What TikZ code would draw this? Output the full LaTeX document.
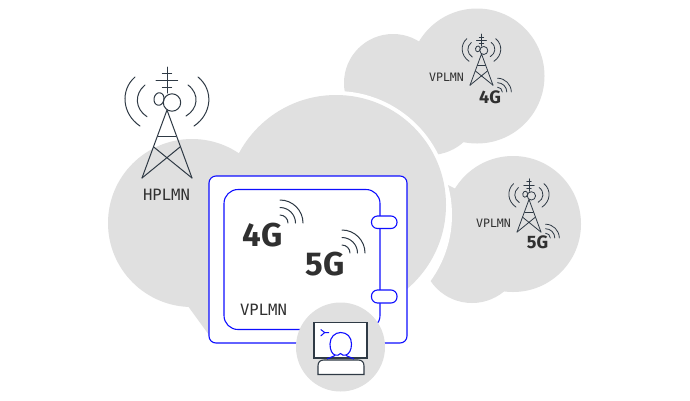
\documentclass[tikz,border=0pt]{standalone}
\usepackage{fontspec}
\setmainfont{Liberation Sans}
\newfontfamily\lblfont{DejaVu Sans Mono}
\newfontfamily\bigfont{Fira Sans}[BoldFont={Fira Sans Bold}]
\definecolor{cloudgray}{HTML}{E0E0E0}
\definecolor{inkdark}{HTML}{2F3A45}
\definecolor{boxblue}{HTML}{0F0FFF}
\definecolor{txt}{HTML}{303030}
\tikzset{
  cloud/.style={fill=cloudgray,draw=none},
  towerline/.style={draw=inkdark,line width=#1,line cap=round,line join=round},
  towerline/.default=1pt,
  bluebox/.style={draw=boxblue,fill=white,line width=1.1pt},
  netlabel/.style={font=\lblfont,text=txt,inner sep=0pt,anchor=center},
  gen/.style={font=\bigfont\bfseries,text=txt,inner sep=0pt,anchor=center}
}
% tower: #1,#2 = position of the apex, #3 scale, #4 line width
\newcommand{\celltower}[4]{%
\begin{scope}[shift={(#1,#2)},scale=#3,towerline=#4]
  \draw (0,-41) -- (0,-15);
  \draw (-4.7,-34.7) -- (4.7,-34.7) (-11,-28) -- (10.7,-28) (-4.7,-21) -- (4.7,-21);
  \draw (5,-5.5) circle[radius=8.7];
  \draw[rotate around={-10:(-8,-9)}] (-8,-9) ellipse[x radius=5,y radius=6.3];
  \draw (-25,70) -- (0,2) -- (25,70);
  \draw (-8.7,28) -- (8.7,28);
  \draw (-13.3,39) -- (25,70) (13,39) -- (-25,70);
  \draw (-32,-31) .. controls (-47,-18) and (-45,6) .. (-27,18);
  \draw (-22,-23) .. controls (-33,-14) and (-32,1) .. (-20,8.7);
  \draw (21,-23) .. controls (33,-14) and (31,1) .. (19,8);
  \draw (31,-31) .. controls (47,-18) and (45,6) .. (27,18);
\end{scope}}
% signal waves: #1,#2 = centre, #3 scale, #4 line width
\newcommand{\sigwaves}[4]{%
\begin{scope}[shift={(#1,#2)},scale=#3,towerline=#4]
  \foreach \r in {8,15.5,23}{
    \draw (0,-\r) .. controls (0.55*\r,-\r) and (\r,-0.55*\r) .. (\r,0);
  }
\end{scope}}
\begin{document}
\begin{tikzpicture}[x=1pt,y=-1pt]
\useasboundingbox (0,0) rectangle (690,400);
\fill[white] (0,0) rectangle (690,400);
% top cloud
\fill[cloud] (477,76) circle[radius=67.5];
\fill[cloud] (393,83) circle[radius=49];
\fill[cloud] (430,105) circle[radius=50];
\fill[cloud] (345,90) -- (430,60) -- (437,155) -- (380,120) -- cycle;
\fill[white] (336,205) circle[radius=114];
% right cloud
\fill[cloud] (513,224) circle[radius=68];
\fill[cloud] (472,253) circle[radius=50];
\fill[cloud] (448,185) -- (458,190) -- (480,210) -- (470,270) -- (431,280) -- cycle;
\fill[white] (340,215) circle[radius=112];
% central cloud
\fill[cloud] (192,223) circle[radius=84];
\fill[cloud] (336,205) circle[radius=110];
\fill[cloud] (185,302) -- (209,335) -- (300,335) -- (300,200) -- (220,200) -- cycle;
% device
\draw[bluebox,rounded corners=7pt] (209,176) rectangle (407,343);
\draw[bluebox,rounded corners=14pt] (224,189.5) rectangle (380,329.5);
\draw[bluebox,rounded corners=6pt] (371.5,216) rectangle (397,228.5);
\draw[bluebox,rounded corners=6pt] (371.5,290) rectangle (397,303);
\node[gen,font=\bigfont\bfseries\fontsize{33}{33}\selectfont] (g4) at (262.5,235) {4G};
\node[gen,font=\bigfont\bfseries\fontsize{33}{33}\selectfont] (g5) at (325,264) {5G};
\sigwaves{280}{223}{1}{1pt}
\sigwaves{342}{253}{1}{1pt}
\node[netlabel,font=\lblfont\fontsize{15.6}{16}\selectfont] (vplmnmain) at (263.5,310) {VPLMN};
% HPLMN tower
\celltower{167}{108}{1}{1pt}
\node[netlabel,font=\lblfont\fontsize{15.6}{16}\selectfont] (hplmn) at (166.5,195) {HPLMN};
% VPLMN 4G tower
\celltower{481.5}{53}{0.46}{0.8pt}
\node[netlabel,font=\lblfont\fontsize{11.6}{12}\selectfont] (vplmn4) at (446.5,77) {VPLMN};
\node[gen,font=\bigfont\bfseries\fontsize{18}{18}\selectfont] (g4s) at (490,97.5) {4G};
\sigwaves{497.5}{92}{0.6}{0.8pt}
% VPLMN 5G tower
\celltower{529}{198.5}{0.48}{0.8pt}
\node[netlabel,font=\lblfont\fontsize{11.6}{12}\selectfont] (vplmn5) at (493.5,223) {VPLMN};
\node[gen,font=\bigfont\bfseries\fontsize{18}{18}\selectfont] (g5s) at (537.5,242) {5G};
\sigwaves{545.5}{238}{0.6}{0.8pt}
% person circle
\fill[cloud] (340.5,347) circle[radius=44.5];
\draw[draw=inkdark,fill=white,line width=1.1pt] (314,322.5) rectangle (367,358);
\draw[draw=boxblue,line width=1pt] (320.7,329.5) -- (324.7,332.5) -- (320.7,336) (324.7,332.5) -- (329,332.5);
\draw[draw=boxblue,line width=1.1pt] (335,355) .. controls (332,354) and (330,350) .. (330,344) .. controls (330,337) and (335,332.5) .. (340.7,332.5) .. controls (347,332.5) and (351.5,337) .. (351.5,344) .. controls (351.5,350) and (349,354) .. (346,355) .. controls (344,356) and (342,355) .. (340.5,353.5) .. controls (339,355) and (337,356) .. (335,355) -- cycle;
\draw[draw=boxblue,line width=1.1pt] (327,359) -- (335,355.5) (354,359) -- (346,355.5);
\draw[draw=inkdark,fill=white,line width=1.1pt] (318,374.5) -- (318,366) .. controls (318,362) and (320,360) .. (324,360) -- (358,360) .. controls (362,360) and (364,362) .. (364,366) -- (364,374.5) -- cycle;
\end{tikzpicture}
\end{document}
